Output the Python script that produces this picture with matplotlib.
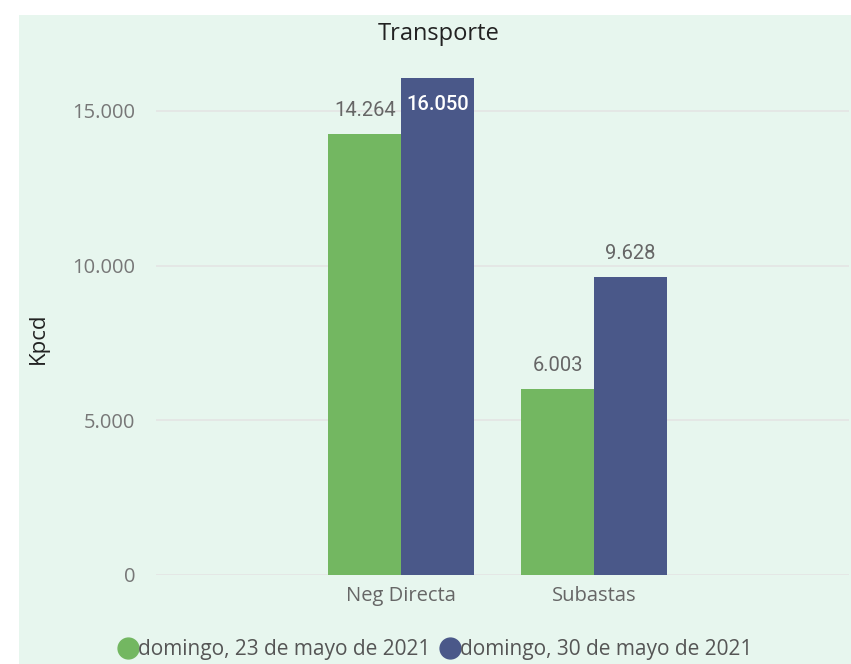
import matplotlib.pyplot as plt
import numpy as np
from matplotlib.lines import Line2D
from matplotlib.patches import Rectangle

categories = ["Neg Directa", "Subastas"]
series_names = ["domingo, 23 de mayo de 2021", "domingo, 30 de mayo de 2021"]
values_23 = [14264, 6003]
values_30 = [16050, 9628]
yticks = [0, 5000, 10000, 15000]

GREEN = "#73b761"
BLUE = "#4a5889"
BG = "#e7f6ee"
GRAY = "#777777"


def fmt(v):
    return f"{v:,.0f}".replace(",", ".")


fig = plt.figure(figsize=(8.51, 6.64), dpi=100)
fig.patch.set_facecolor("white")
fig.patches.append(Rectangle((19 / 851, 0), 1, 1 - 15 / 664,
                             transform=fig.transFigure, facecolor=BG,
                             edgecolor="none", zorder=-10))

ax = fig.add_axes([156 / 851, 1 - 575 / 664, 693 / 851, (575 - 49) / 664])
ax.set_facecolor("none")

x = np.arange(len(categories))
w = 0.378
b1 = ax.bar(x - w / 2, values_23, w, color=GREEN, zorder=3)
b2 = ax.bar(x + w / 2, values_30, w, color=BLUE, zorder=3)

ax.set_xlim(-1.27, 2.32)
ax.set_ylim(0, 17000)
ax.set_yticks(yticks)
ax.set_yticklabels([fmt(v) for v in yticks], fontsize=14.5, color=GRAY,
                   family="Open Sans")
ax.set_xticks(x)
ax.set_xticklabels(categories, fontsize=14.5, color="#666666",
                   family="Open Sans")
ax.tick_params(length=0, pad=15, axis="y")
ax.tick_params(length=0, pad=8, axis="x")
ax.grid(axis="y", color="#e4e4e4", lw=1.2, zorder=0)
for s in ax.spines.values():
    s.set_visible(False)

# data labels
for bars, vals in ((b1, values_23), (b2, values_30)):
    for rect, v in zip(bars, vals):
        cx = rect.get_x() + rect.get_width() / 2
        if v > 15500:
            ax.text(cx, v - 550, fmt(v), ha="center", va="top", color="white",
                    fontsize=14.5, family="Roboto", weight="medium")
        else:
            ax.text(cx, v + 450, fmt(v), ha="center", va="bottom",
                    color="#666666", fontsize=14.5, family="Roboto")

fig.text(439 / 851, 1 - 34 / 664, "Transporte", ha="center", va="center",
         fontsize=17, family="Open Sans", color="#222222")
fig.text(38 / 851, 1 - 338 / 664, "Kpcd", ha="center", va="center",
         rotation=90, fontsize=16, family="Open Sans", color="#222222")

handles = [Line2D([], [], ls="none", marker="o", ms=15, color=c)
           for c in (GREEN, BLUE)]
fig.legend(handles, series_names, loc="center",
           bbox_to_anchor=(434 / 851, 1 - 650 / 664), ncol=2, frameon=False,
           handletextpad=-0.1, columnspacing=0.3, handlelength=1.2,
           prop={"family": "Open Sans", "size": 15}, labelcolor="#555555")

fig.savefig("out.png", dpi=100, facecolor="white")
